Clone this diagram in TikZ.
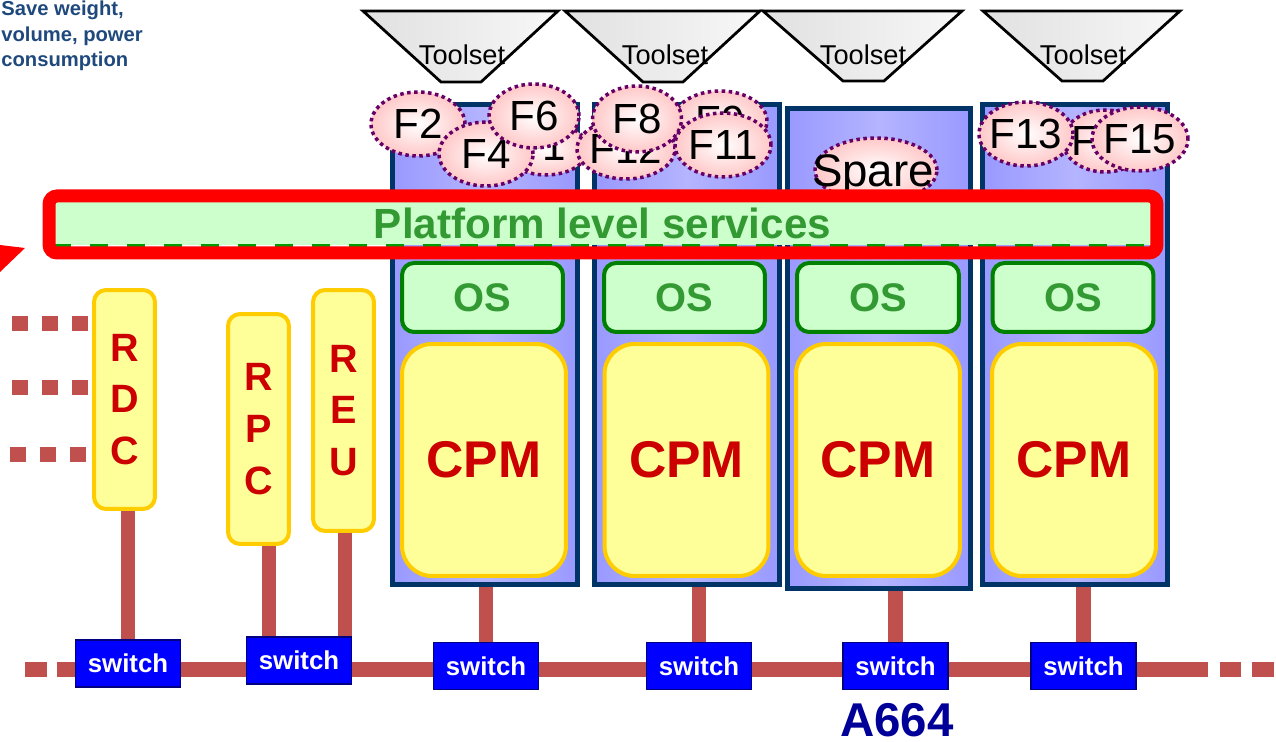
\documentclass[tikz,border=0pt]{standalone}
\usepackage{fontspec}
\setmainfont{Liberation Sans}
\usetikzlibrary{shapes.geometric}
\definecolor{navy}{HTML}{003366}
\definecolor{colA}{HTML}{9999FF}
\definecolor{colB}{HTML}{B4B4FF}
\definecolor{osfill}{HTML}{CCFFCC}
\definecolor{osdraw}{HTML}{008000}
\definecolor{ostext}{HTML}{339933}
\definecolor{cpmfill}{HTML}{FFFF99}
\definecolor{cpmdraw}{HTML}{FFCC00}
\definecolor{cpmtext}{HTML}{CC0000}
\definecolor{netc}{HTML}{C0504D}
\definecolor{swfill}{HTML}{0000FF}
\definecolor{swdraw}{HTML}{000080}
\definecolor{atext}{HTML}{000099}
\definecolor{fdraw}{HTML}{660066}
\definecolor{fpink}{HTML}{FFC8C8}
\definecolor{tdark}{HTML}{1F497D}
\definecolor{pgreen}{HTML}{009900}
\definecolor{redc}{HTML}{FF0000}
\begin{document}
\begin{tikzpicture}[x=0.02cm,y=-0.02cm,
  toolshape/.style={draw=black, line width=0.055cm, left color=black!12, right color=black!3},
  tooltext/.style={inner sep=0, font=\fontsize{15.5}{18}\selectfont},
  colbox/.style={draw=navy, line width=0.1cm, left color=colA, right color=colA, middle color=colB, minimum width=3.7cm, minimum height=9.6cm, inner sep=0},
  fn/.style={ellipse, inner sep=0, draw=fdraw, line width=0.07cm, dash pattern=on 0.07cm off 0.07cm, inner color=white, outer color=fpink, font=\fontsize{24}{24}\selectfont},
  osbox/.style={draw=osdraw, line width=0.08cm, fill=osfill, rounded corners=0.24cm, minimum width=3.22cm, minimum height=1.38cm, inner sep=0, text=ostext, font=\bfseries\fontsize{22.7}{24}\selectfont},
  cpmbox/.style={draw=cpmdraw, line width=0.08cm, fill=cpmfill, rounded corners=0.6cm, minimum width=3.28cm, minimum height=4.64cm, inner sep=0, text=cpmtext, font=\bfseries\fontsize{29.4}{30}\selectfont},
  rbox/.style={draw=cpmdraw, line width=0.08cm, fill=cpmfill, rounded corners=0.24cm, minimum width=1.22cm, inner sep=0, text=cpmtext, align=center, font=\bfseries\fontsize{22.5}{29.5}\selectfont},
  swbox/.style={draw=swdraw, line width=0.03cm, fill=swfill, text=white, minimum width=2.1cm, minimum height=0.94cm, inner sep=0, font=\bfseries\fontsize{14.7}{16}\selectfont},
  net/.style={draw=netc, line width=0.29cm},
  netdot/.style={draw=netc, line width=0.3cm, dash pattern=on 0.32cm off 0.28cm}
]
\useasboundingbox (0,0) rectangle (1276,742);

% toolsets
\draw[toolshape] (363,11) -- (558,11) -- (481,82) -- (441,82) -- cycle;
\node[tooltext] (t1) at (462,55) {Toolset};
\draw[toolshape] (565,11) -- (760,11) -- (683,82) -- (643,82) -- cycle;
\node[tooltext] (t2) at (665,55) {Toolset};
\draw[toolshape] (763,11) -- (962,11) -- (884,81) -- (843,81) -- cycle;
\node[tooltext] (t3) at (863,55) {Toolset};
\draw[toolshape] (983,11) -- (1180,11) -- (1103,81) -- (1062,81) -- cycle;
\node[tooltext] (t4) at (1083,55) {Toolset};

% partitions
\node[colbox] (col1) at (485,344.5) {};
\node[colbox] (col2) at (687,344.5) {};
\node[colbox, minimum width=3.66cm] (col3) at (879,348.5) {};
\node[colbox] (col4) at (1075,344.5) {};

% functions
\node[fn, minimum width=1.68cm, minimum height=1.04cm] (f1) at (546,149) {\makebox[0pt]{\hspace{-0.2cm}\raisebox{0.12cm}{F1}}};
\node[fn, minimum width=1.88cm, minimum height=1.28cm] (f2) at (418,124) {\makebox[0pt]{F2}};
\node[fn, minimum width=1.88cm, minimum height=1.28cm] (f4) at (486,154) {\makebox[0pt]{F4}};
\node[fn, minimum width=1.8cm, minimum height=1.28cm] (f6) at (534,116) {\makebox[0pt]{F6}};
\node[fn, minimum width=1.96cm, minimum height=1.2cm] (f12) at (626,149) {\makebox[0pt]{F12}};
\node[fn, minimum width=1.88cm, minimum height=1.2cm] (f9) at (720,121) {\makebox[0pt]{F9}};
\node[fn, minimum width=1.78cm, minimum height=1.32cm] (f8) at (637,119) {\makebox[0pt]{F8}};
\node[fn, minimum width=1.92cm, minimum height=1.28cm] (f11) at (723,145) {\makebox[0pt]{F11}};
\node[fn, minimum width=2.44cm, minimum height=1.28cm] (spare) at (876,170) {};
\node[anchor=base, inner sep=0, font=\fontsize{26}{26}\selectfont] (spareT) at (873,187) {Spare};
\node[fn, minimum width=1.68cm, minimum height=1.24cm] (f14) at (1105,141) {\makebox[0pt]{\hspace{0.1cm}F14}};
\node[fn, minimum width=1.88cm, minimum height=1.28cm] (f13) at (1026,134) {\makebox[0pt]{F13}};
\node[fn, minimum width=1.92cm, minimum height=1.28cm] (f15) at (1140,139) {\makebox[0pt]{F15}};

% platform level services
\node[fill=osfill, minimum width=21.98cm, minimum height=0.88cm, inner sep=0, text=ostext, font=\bfseries\fontsize{24}{26}\selectfont] (plat) at (602.5,223) {Platform level services};
\draw[pgreen, line width=0.06cm, dash pattern=on 0.36cm off 0.38cm] (plat.south west) -- (plat.south east);
\node[draw=redc, line width=0.26cm, rounded corners=0.16cm, minimum width=22.16cm, minimum height=1.14cm, inner sep=0] (frame) at (603,224.5) {};
\fill[redc] (0,245) -- (25,248) -- (0,272) -- cycle;

% OS and CPM
\node[osbox] (os1) at (482.5,297.5) {OS};
\node[osbox] (os2) at (684.5,297.5) {OS};
\node[osbox, minimum width=3.24cm] (os3) at (878,297.5) {OS};
\node[osbox] (os4) at (1073,297.5) {OS};
\node[cpmbox] (cpm1) at (484,460) {CPM};
\node[cpmbox] (cpm2) at (686.5,460) {CPM};
\node[cpmbox] (cpm3) at (878,460) {CPM};
\node[cpmbox] (cpm4) at (1074,460) {CPM};

% remote units
\node[rbox, minimum height=4.38cm] (rdc) at (124.5,399.5) {R\\D\\C};
\node[rbox, minimum height=4.6cm] (rpc) at (258.5,429) {R\\P\\C};
\node[rbox, minimum height=4.82cm] (reu) at (343.5,410.5) {R\\E\\U};

% switch positions
\coordinate (sw1) at (128,663.5);
\coordinate (sw2) at (299,660.5);
\coordinate (sw3) at (486,666);
\coordinate (sw4) at (699,666);
\coordinate (sw5) at (895.5,666);
\coordinate (sw6) at (1083.5,666);

% network
\coordinate (busL) at (25,669.5);
\coordinate (busR) at (1274,669.5);
\coordinate (rpcx) at (269,0);
\coordinate (reux) at (345,0);
\coordinate (d1) at (12,324);
\coordinate (d2) at (12,388);
\coordinate (d3) at (10,455);
\draw[net, dash pattern=on 0.44cm off 0.2cm on 23.02cm off 0.24cm on 0.42cm off 0.22cm on 0.44cm] (busL) -- (busR);
\draw[net] (rdc.south -| sw1) -- (sw1);
\draw[net] (rpc.south -| rpcx) -- (sw2 -| rpcx);
\draw[net] (reu.south -| reux) -- (sw2 -| reux);
\draw[net] (col1.south -| sw3) -- (sw3);
\draw[net] (col2.south -| sw4) -- (sw4);
\draw[net] (col3.south -| sw5) -- (sw5);
\draw[net] (col4.south -| sw6) -- (sw6);
\draw[netdot] (d1) -- (d1 -| rdc.west);
\draw[netdot] (d2) -- (d2 -| rdc.west);
\draw[netdot] (d3) -- (d3 -| rdc.west);

% switches on top
\node[swbox] (s1) at (sw1) {switch};
\node[swbox] (s2) at (sw2) {switch};
\node[swbox] (s3) at (sw3) {switch};
\node[swbox] (s4) at (sw4) {switch};
\node[swbox] (s5) at (sw5) {switch};
\node[swbox] (s6) at (sw6) {switch};

% texts
\node[anchor=north west, inner sep=0, align=left, text=tdark, font=\bfseries\fontsize{11.5}{14.4}\selectfont] (note) at (1,1) {Save weight,\\volume, power\\consumption};
\node[text=atext, inner sep=0, font=\bfseries\fontsize{27}{28}\selectfont] (a664) at (897,720) {A664};
\end{tikzpicture}
\end{document}
